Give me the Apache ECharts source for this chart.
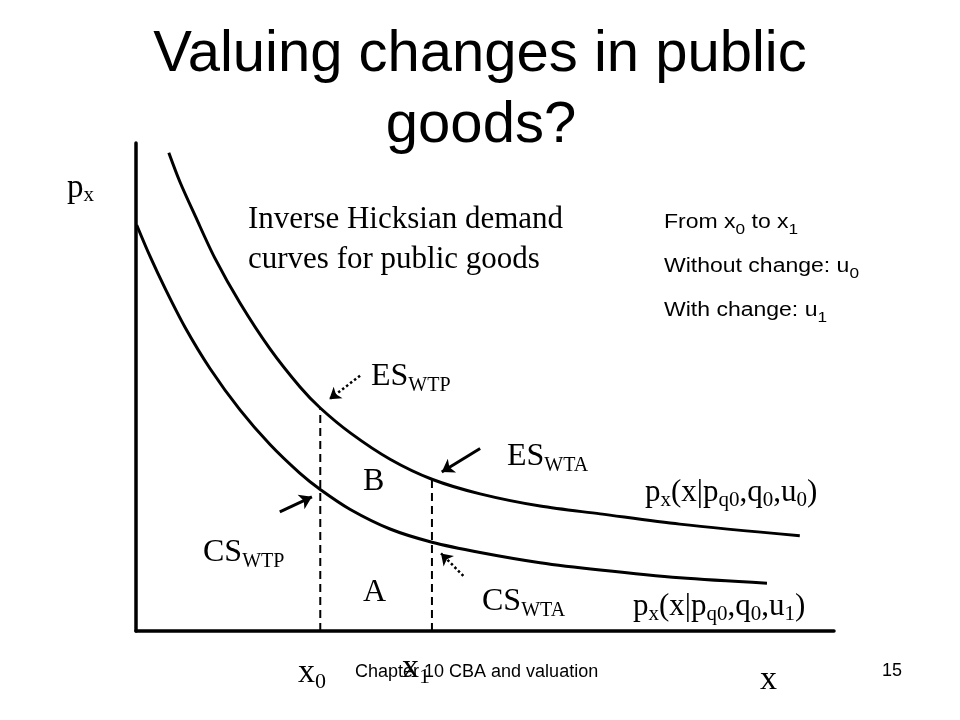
<!DOCTYPE html>
<html><head><meta charset="utf-8">
<script src="https://cdn.jsdelivr.net/npm/echarts@6/dist/echarts.min.js"></script>
<style>html,body{margin:0;padding:0;background:#fff}#c{width:960px;height:720px}</style>
</head><body><div id="c"></div>
<script>
// Curve u0 (upper) and u1 (lower), in axis units (x: 0-100, y: 0-100)
const upperX = [4.7, 6.3, 8.5, 11.3, 14.9, 19.2, 23.5, 26.4, 30.7, 36.4, 42.4, 49.3, 57.9, 66.5, 77.9, 95.1];
const upperY = [98.0, 92.0, 85.0, 76.4, 67.2, 57.8, 50.0, 45.7, 40.6, 35.2, 31.1, 28.1, 25.6, 24.0, 21.9, 19.5];
const lowerX = [0.1, 2.0, 4.2, 7.0, 10.6, 14.9, 19.2, 23.5, 26.4, 30.7, 36.4, 42.4, 49.3, 57.9, 66.5, 77.9, 90.4];
const lowerY = [83.2, 76.8, 70.1, 62.3, 53.8, 45.3, 38.2, 32.3, 29.0, 24.9, 20.9, 18.2, 16.1, 14.0, 12.5, 10.9, 9.8];
// indices of x0 and x1 on the upper curve
const x0Index = 7, x1Index = 10;
// annotation arrows [from, to]
const esWtpArrow = [[32.1, 52.3], [27.7, 47.5]];
const esWtaArrow = [[49.3, 37.4], [43.8, 32.6]];
const csWtpArrow = [[20.6, 24.4], [25.2, 27.5]];
const csWtaArrow = [[46.9, 11.3], [43.7, 15.9]];
const titleLines = ['Valuing changes in public', 'goods?'];
const footerText = 'Chapter 10 CBA and valuation';
const pageNumber = '15';

const SERIF = '"Liberation Serif", "Times New Roman", serif';
const SANS = '"Liberation Sans", Arial, sans-serif';

function label(x, base, parts, main, sub, family, d, scaleX) {
  const rich = {
    m: {font: main + 'px ' + family, fill: '#000', lineHeight: 60, verticalAlign: 'middle'},
    s: {font: sub + 'px ' + family, fill: '#000', lineHeight: 60, verticalAlign: 'middle', padding: [d, 0, 0, 0]}
  };
  const text = parts.map(p => '{' + (p[1] ? 's' : 'm') + '|' + p[0] + '}').join('');
  return {type: 'text', x: x, y: base - 0.34 * main, scaleX: scaleX || 1, silent: true,
    style: {text: text, x: 0, y: 0, rich: rich, align: 'left', verticalAlign: 'middle',
      fill: '#000', font: main + 'px ' + family}};
}
function plain(x, base, text, size, family, align) {
  return {type: 'text', x: x, y: base - 0.34 * size, silent: true,
    style: {text: text, x: 0, y: 0, font: size + 'px ' + family, fill: '#000',
      align: align || 'left', verticalAlign: 'middle'}};
}

const zip = (xs, ys) => xs.map((v, i) => [v, ys[i]]);
const curveStyle = {color: '#000', width: 3};

const option = {
  animation: false,
  backgroundColor: '#fff',
  grid: {left: 136, right: 126, top: 143, bottom: 89, containLabel: false},
  xAxis: {type: 'value', min: 0, max: 100,
    axisLine: {show: true, onZero: false, lineStyle: {color: '#000', width: 3.5}},
    axisTick: {show: false}, axisLabel: {show: false}, splitLine: {show: false}},
  yAxis: {type: 'value', min: 0, max: 100,
    axisLine: {show: true, onZero: false, lineStyle: {color: '#000', width: 3.5}},
    axisTick: {show: false}, axisLabel: {show: false}, splitLine: {show: false}},
  series: [
    {type: 'line', data: zip(upperX, upperY), smooth: 0.3, showSymbol: false, lineStyle: curveStyle, clip: false, z: 3},
    {type: 'line', data: zip(lowerX, lowerY), smooth: 0.3, showSymbol: false, lineStyle: curveStyle, clip: false, z: 3},
    {type: 'line', data: [[upperX[x0Index], 0], [upperX[x0Index], upperY[x0Index]]], showSymbol: false,
      lineStyle: {color: '#000', width: 2, type: [8, 5]}, z: 2},
    {type: 'line', data: [[upperX[x1Index], 0], [upperX[x1Index], upperY[x1Index]]], showSymbol: false,
      lineStyle: {color: '#000', width: 2, type: [8, 5]}, z: 2},
    {type: 'lines', coordinateSystem: 'cartesian2d', symbol: ['none', 'arrow'], symbolSize: 12,
      lineStyle: {color: '#000', width: 3, opacity: 1},
      data: [{coords: esWtaArrow}, {coords: csWtpArrow}], z: 4},
    {type: 'lines', coordinateSystem: 'cartesian2d', symbol: ['none', 'arrow'], symbolSize: 11,
      lineStyle: {color: '#000', width: 2.5, type: [2.5, 2.5], opacity: 1},
      data: [{coords: esWtpArrow}, {coords: csWtaArrow}], z: 4}
  ],
  graphic: [
    plain(480, 75, titleLines[0], 58, SANS, 'center'),
    plain(481, 146, titleLines[1], 58, SANS, 'center'),
    label(67, 200, [['p'], ['x', 1]], 33, 21, SERIF, 13),
    plain(248, 230, 'Inverse Hicksian demand', 31, SERIF),
    plain(248, 270, 'curves for public goods', 31, SERIF),
    label(664, 229, [['From x'], ['0', 1], [' to x'], ['1', 1]], 20, 15, SANS, 16, 1.15),
    label(664, 273, [['Without change: u'], ['0', 1]], 20, 15, SANS, 16, 1.15),
    label(664, 317, [['With change: u'], ['1', 1]], 20, 15, SANS, 16, 1.15),
    label(371, 387, [['ES'], ['WTP', 1]], 32, 20, SERIF, 20),
    label(507, 467, [['ES'], ['WTA', 1]], 32, 20, SERIF, 20),
    plain(363, 492, 'B', 32, SERIF),
    plain(363, 603, 'A', 32, SERIF),
    label(203, 563, [['CS'], ['WTP', 1]], 32, 20, SERIF, 20),
    label(482, 612, [['CS'], ['WTA', 1]], 32, 20, SERIF, 20),
    label(645, 503, [['p'], ['x', 1], ['(x|p'], ['q0', 1], [',q'], ['0', 1], [',u'], ['0', 1], [')']], 31, 21, SERIF, 16),
    label(633, 617, [['p'], ['x', 1], ['(x|p'], ['q0', 1], [',q'], ['0', 1], [',u'], ['1', 1], [')']], 31, 21, SERIF, 16),
    label(298, 685, [['x'], ['0', 1]], 34, 22, SERIF, 18),
    label(402, 680, [['x'], ['1', 1]], 34, 22, SERIF, 18),
    plain(760, 692, 'x', 34, SERIF),
    plain(355, 678, footerText, 18, SANS),
    plain(882, 677, pageNumber, 18, SANS)
  ]
};
const chart = echarts.init(document.getElementById('c'), null, {renderer: 'canvas'});
chart.setOption(option);
</script>
</body></html>
